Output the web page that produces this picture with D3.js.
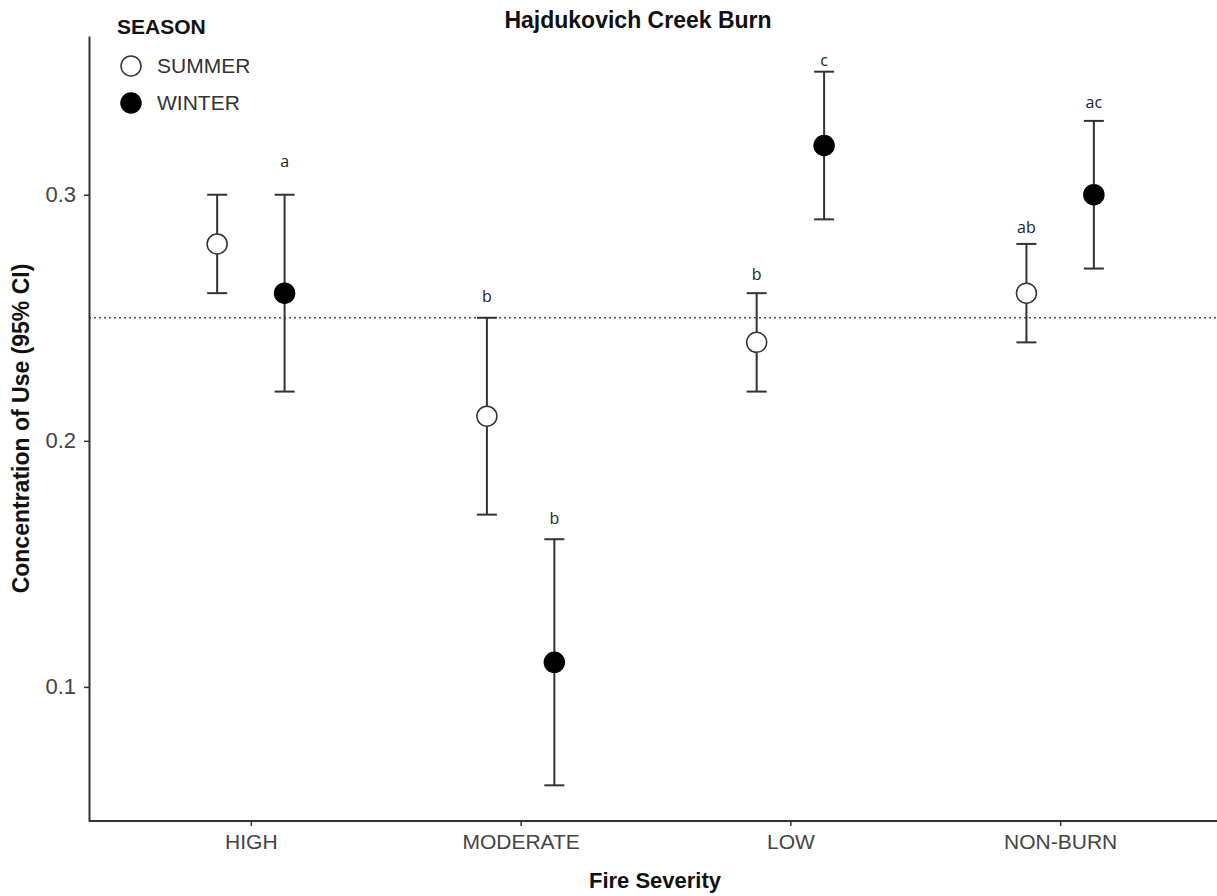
<!DOCTYPE html>
<html>
<head>
<meta charset="utf-8">
<script src="https://cdn.jsdelivr.net/npm/d3@7"></script>
<style>
  body { margin: 0; background: #fff; }
  svg { display: block; font-family: "Liberation Sans", Arial, sans-serif; }
</style>
</head>
<body>
<svg width="1217" height="896"></svg>
<script>
// data
var categories = ['HIGH', 'MODERATE', 'LOW', 'NON-BURN'];
var seasons = ['SUMMER', 'WINTER'];
var summerMean = [0.28, 0.21, 0.24, 0.26];
var summerLow  = [0.26, 0.17, 0.22, 0.24];
var summerHigh = [0.30, 0.25, 0.26, 0.28];
var winterMean = [0.26, 0.11, 0.32, 0.30];
var winterLow  = [0.22, 0.06, 0.29, 0.27];
var winterHigh = [0.30, 0.16, 0.35, 0.33];
// significance letters: category, season, text, y-value
var letterCat    = ['HIGH', 'MODERATE', 'MODERATE', 'LOW', 'LOW', 'NON-BURN', 'NON-BURN'];
var letterSeason = ['WINTER', 'SUMMER', 'WINTER', 'SUMMER', 'WINTER', 'SUMMER', 'WINTER'];
var letterText   = ['a', 'b', 'b', 'b', 'c', 'ab', 'ac'];
var letterY      = [0.313, 0.258, 0.168, 0.267, 0.354, 0.286, 0.337];
var yTicks = [0.1, 0.2, 0.3];
var refLine = 0.25;

var width = 1217, height = 896;
var margin = {top: 36, bottom: 75, left: 89, right: -5};

var rows = [];
categories.forEach((c, i) => {
    rows.push({cat: c, season: 'SUMMER', mean: summerMean[i], lo: summerLow[i], hi: summerHigh[i]});
    rows.push({cat: c, season: 'WINTER', mean: winterMean[i], lo: winterLow[i], hi: winterHigh[i]});
});

// scales
var xScale = d3.scalePoint()
    .domain(categories)
    .range([margin.left, width - margin.right])
    .padding(0.6);
var step = xScale.step();
var dodge = d3.scalePoint().domain(seasons).range([-0.125 * step, 0.125 * step]);

var allVals = rows.map(d => d.lo).concat(rows.map(d => d.hi));
var yMin = d3.min(allVals), yMax = d3.max(allVals);
var pad = (yMax - yMin) * 0.05;
var yScale = d3.scaleLinear()
    .domain([yMin - pad, yMax + pad])
    .range([height - margin.bottom, margin.top]);

var svg = d3.select('svg');
var ink = '#333333';

// reference line
svg.append('line')
    .attr('x1', margin.left).attr('x2', width)
    .attr('y1', yScale(refLine)).attr('y2', yScale(refLine))
    .attr('stroke', '#555').attr('stroke-width', 1.5)
    .attr('stroke-dasharray', '2,3');

// axes
var xAxis = d3.axisBottom(xScale).tickSize(5).tickSizeOuter(0);
var yAxis = d3.axisLeft(yScale).tickValues(yTicks).tickFormat(d3.format('.1f')).tickSize(5).tickSizeOuter(0);

var gx = svg.append('g')
    .attr('transform', 'translate(0,' + (height - margin.bottom) + ')')
    .call(xAxis);
gx.select('.domain').attr('stroke', ink).attr('stroke-width', 2)
    .attr('d', 'M' + margin.left + ',0H' + width);
gx.selectAll('.tick line').attr('stroke', ink).attr('stroke-width', 1.5);
gx.selectAll('.tick text').attr('fill', '#444').attr('font-size', 21)
    .attr('font-family', '"Liberation Sans", Arial, sans-serif')
    .attr('y', 10).attr('dy', '0.85em');

var gy = svg.append('g')
    .attr('transform', 'translate(' + margin.left + ',0)')
    .call(yAxis);
gy.select('.domain').attr('stroke', ink).attr('stroke-width', 2);
gy.selectAll('.tick line').attr('stroke', ink).attr('stroke-width', 1.5);
gy.selectAll('.tick text').attr('fill', '#444').attr('font-size', 22)
    .attr('font-family', '"Liberation Sans", Arial, sans-serif')
    .attr('x', -13);

// error bars
var cx = d => xScale(d.cat) + dodge(d.season);
var bars = svg.append('g').selectAll('g').data(rows).enter().append('g')
    .attr('stroke', ink).attr('stroke-width', 2);
bars.append('line')
    .attr('x1', cx).attr('x2', cx)
    .attr('y1', d => yScale(d.lo)).attr('y2', d => yScale(d.hi));
bars.append('line')
    .attr('x1', d => cx(d) - 10).attr('x2', d => cx(d) + 10)
    .attr('y1', d => yScale(d.lo)).attr('y2', d => yScale(d.lo));
bars.append('line')
    .attr('x1', d => cx(d) - 10).attr('x2', d => cx(d) + 10)
    .attr('y1', d => yScale(d.hi)).attr('y2', d => yScale(d.hi));

// points
svg.append('g').selectAll('circle').data(rows).enter().append('circle')
    .attr('cx', cx)
    .attr('cy', d => yScale(d.mean))
    .attr('r', 10)
    .attr('fill', d => d.season === 'WINTER' ? '#000' : '#fff')
    .attr('stroke', d => d.season === 'WINTER' ? '#000' : ink)
    .attr('stroke-width', 1.5);

// letters
svg.append('g').selectAll('text').data(letterText).enter().append('text')
    .attr('x', (d, i) => xScale(letterCat[i]) + dodge(letterSeason[i]))
    .attr('y', (d, i) => yScale(letterY[i]))
    .attr('text-anchor', 'middle')
    .attr('dominant-baseline', 'middle')
    .attr('font-family', '"Open Sans", sans-serif')
    .attr('font-size', 16)
    .attr('fill', '#222')
    .text(d => d);

// title
svg.append('text')
    .attr('x', 638).attr('y', 28)
    .attr('text-anchor', 'middle')
    .attr('font-weight', 'bold').attr('font-size', 23)
    .attr('fill', '#111')
    .text('Hajdukovich Creek Burn');

// axis titles
svg.append('text')
    .attr('x', 655).attr('y', 888)
    .attr('text-anchor', 'middle')
    .attr('font-weight', 'bold').attr('font-size', 22)
    .attr('fill', '#111')
    .text('Fire Severity');

svg.append('text')
    .attr('transform', 'translate(29,' + ((margin.top + height - margin.bottom) / 2) + ') rotate(-90)')
    .attr('text-anchor', 'middle')
    .attr('font-weight', 'bold').attr('font-size', 23)
    .attr('fill', '#111')
    .text('Concentration of Use (95% CI)');

// legend
var legend = svg.append('g');
legend.append('text')
    .attr('x', 117).attr('y', 34)
    .attr('font-weight', 'bold').attr('font-size', 21)
    .attr('fill', '#111')
    .text('SEASON');
var items = legend.selectAll('g.item').data(seasons).enter().append('g')
    .attr('transform', (d, i) => 'translate(131,' + (66 + i * 37) + ')');
items.append('circle')
    .attr('r', 10)
    .attr('fill', d => d === 'WINTER' ? '#000' : '#fff')
    .attr('stroke', d => d === 'WINTER' ? '#000' : ink)
    .attr('stroke-width', 1.5);
items.append('text')
    .attr('x', 26).attr('y', 1)
    .attr('dominant-baseline', 'middle')
    .attr('font-size', 21)
    .attr('fill', '#333')
    .text(d => d);
</script>
</body>
</html>
